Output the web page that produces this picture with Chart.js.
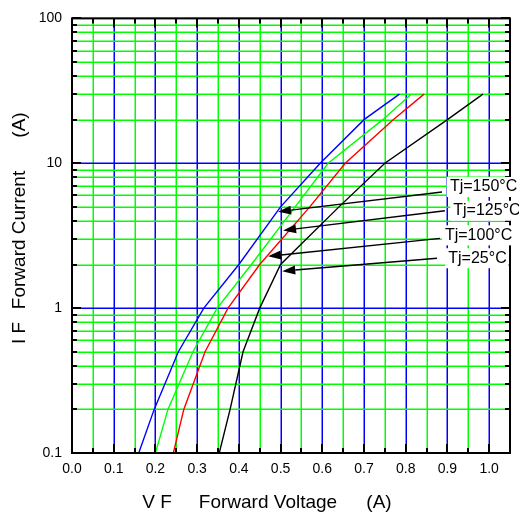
<!DOCTYPE html>
<html>
<head>
<meta charset="utf-8">
<script src="https://cdn.jsdelivr.net/npm/chart.js@4.4.0/dist/chart.umd.min.js"></script>
<style>
  html, body { margin: 0; padding: 0; background: #fff; }
  #wrap { width: 519px; height: 520px; }
</style>
</head>
<body>
<div id="wrap"><canvas id="vfChart" width="519" height="520"></canvas></div>
<script>
// forward current points (A), shared by all curves
var currents = [0.1, 0.2, 0.5, 1, 2, 5, 10, 20, 30];

// forward voltage (V) at each current, per junction temperature
var vf150 = [0.160, 0.197, 0.255, 0.316, 0.400, 0.500, 0.595, 0.700, 0.785];
var vf125 = [0.200, 0.230, 0.290, 0.348, 0.430, 0.535, 0.614, 0.745, 0.813];
var vf100 = [0.243, 0.268, 0.319, 0.374, 0.450, 0.570, 0.655, 0.770, 0.844];
var vf25  = [0.353, 0.379, 0.410, 0.450, 0.500, 0.640, 0.750, 0.900, 0.985];

var seriesNames = ['Tj=150°C', 'Tj=125°C', 'Tj=100°C', 'Tj=25°C'];
var seriesColors = ['#0000ff', '#00ff00', '#ff0000', '#000000'];

// y tick labels and log grid
var yLabels = [0.1, 1, 10, 100];
var decades = [0.1, 1, 10];
var mantissas = [1, 2, 3, 4, 5, 6, 7, 8, 9];

// callouts, in data units: label anchor, arrow tail, arrow tip
var calloutText = ['Tj=150°C', 'Tj=125°C', 'Tj=100°C', 'Tj=25°C'];
var labelV = [0.906, 0.914, 0.894, 0.902];
var labelI = [6.86, 4.70, 3.18, 2.21];
var tailV  = [0.887, 0.894, 0.882, 0.875];
var tailI  = [6.34, 4.70, 3.03, 2.21];
var tipV   = [0.494, 0.506, 0.470, 0.504];
var tipI   = [4.63, 3.44, 2.28, 1.80];

function pts(vs) {
    return vs.map(function (v, i) { return { x: v, y: currents[i] }; });
}

var allVf = [vf150, vf125, vf100, vf25];
var datasetArray = allVf.map(function (vs, i) {
    return {
        label: seriesNames[i],
        data: pts(vs),
        borderColor: seriesColors[i],
        borderWidth: 1.4,
        pointRadius: 0,
        tension: 0,
        fill: false
    };
});

function isTenth(v) { return Math.abs(Math.round(v * 100)) % 10 === 0; }
function gridPos(p) { return Math.round(p) + 0.25; }

var FONT = '"Liberation Sans", Arial, sans-serif';

var framePlugin = {
    id: 'frame',
    beforeDatasetsDraw: function (chart) {
        // grid lines: blue on 0.1 V / decades, green elsewhere
        var c = chart.ctx, a = chart.chartArea;
        var xs = chart.scales.x, ys = chart.scales.y;
        c.save();
        c.lineWidth = 1.5;
        xs.ticks.forEach(function (t) {
            var px = gridPos(xs.getPixelForValue(t.value));
            c.strokeStyle = isTenth(t.value) ? '#0000ff' : '#00ff00';
            c.beginPath(); c.moveTo(px, a.top); c.lineTo(px, a.bottom); c.stroke();
        });
        ys.ticks.forEach(function (t) {
            var py = gridPos(ys.getPixelForValue(t.value));
            c.strokeStyle = (t.value === 1 || t.value === 10) ? '#0000ff' : '#00ff00';
            c.beginPath(); c.moveTo(a.left, py); c.lineTo(a.right, py); c.stroke();
        });
        c.restore();
    },
    afterDatasetsDraw: function (chart) {
        var c = chart.ctx, a = chart.chartArea;
        var xs = chart.scales.x, ys = chart.scales.y;
        c.save();
        c.strokeStyle = '#000';
        c.lineWidth = 2;
        c.beginPath();
        xs.ticks.forEach(function (t) {
            var px = Math.round(xs.getPixelForValue(t.value));
            var len = isTenth(t.value) ? 9 : 5;
            c.moveTo(px, a.bottom); c.lineTo(px, a.bottom - len);
            c.moveTo(px, a.top); c.lineTo(px, a.top + len);
        });
        ys.ticks.forEach(function (t) {
            var py = Math.round(ys.getPixelForValue(t.value));
            var len = yLabels.indexOf(t.value) >= 0 ? 9 : 5;
            c.moveTo(a.left, py); c.lineTo(a.left + len, py);
            c.moveTo(a.right, py); c.lineTo(a.right - len, py);
        });
        c.stroke();
        c.strokeRect(a.left, a.top, a.right - a.left, a.bottom - a.top);
        c.restore();
    },
    afterDraw: function (chart) {
        var c = chart.ctx;
        var xs = chart.scales.x, ys = chart.scales.y;
        c.save();
        // callouts
        c.font = '16px ' + FONT;
        c.textBaseline = 'middle';
        c.textAlign = 'left';
        for (var i = 0; i < calloutText.length; i++) {
            var lx = xs.getPixelForValue(labelV[i]), ly = ys.getPixelForValue(labelI[i]);
            var w = c.measureText(calloutText[i]).width;
            c.fillStyle = '#fff';
            c.fillRect(lx - 3, ly - 10, w + 5, 20);
        }
        for (var j = 0; j < calloutText.length; j++) {
            var x0 = xs.getPixelForValue(tailV[j]), y0 = ys.getPixelForValue(tailI[j]);
            var x1 = xs.getPixelForValue(tipV[j]), y1 = ys.getPixelForValue(tipI[j]);
            var ang = Math.atan2(y1 - y0, x1 - x0);
            var hl = 13, hw = 4.5;
            var bx = x1 - hl * Math.cos(ang), by = y1 - hl * Math.sin(ang);
            c.strokeStyle = '#000';
            c.lineWidth = 1.4;
            c.beginPath();
            c.moveTo(x0, y0); c.lineTo(bx, by);
            c.stroke();
            c.fillStyle = '#000';
            c.beginPath();
            c.moveTo(x1, y1);
            c.lineTo(bx + hw * Math.sin(ang), by - hw * Math.cos(ang));
            c.lineTo(bx - hw * Math.sin(ang), by + hw * Math.cos(ang));
            c.closePath();
            c.fill();
            c.fillText(calloutText[j], xs.getPixelForValue(labelV[j]), ys.getPixelForValue(labelI[j]));
        }
        // axis titles
        c.font = '19px ' + FONT;
        c.textAlign = 'center';
        c.fillStyle = '#000';
        c.fillText('V F', 157, 503);
        c.fillText('Forward Voltage', 268, 503);
        c.fillText('(A)', 379, 503);
        c.translate(20, 0);
        c.rotate(-Math.PI / 2);
        c.fillText('I F', -333, 0);
        c.fillText('Forward Current', -240, 0);
        c.fillText('(A)', -125, 0);
        c.restore();
    }
};

var ctx = document.getElementById('vfChart').getContext('2d');
var chart = new Chart(ctx, {
    type: 'line',
    data: { datasets: datasetArray },
    plugins: [framePlugin],
    options: {
        responsive: false,
        animation: false,
        layout: { padding: { left: 0, top: 14, right: 9, bottom: 0 } },
        plugins: { legend: { display: false }, tooltip: { enabled: false } },
        scales: {
            x: {
                type: 'linear',
                min: 0,
                max: 1.05,
                afterFit: function (s) { s.height = 67; },
                border: { display: false },
                grid: { display: false, drawTicks: false },
                ticks: {
                    stepSize: 0.05,
                    autoSkip: false,
                    maxRotation: 0,
                    padding: 8,
                    color: '#000',
                    font: { family: FONT, size: 14 },
                    callback: function (v) { return isTenth(v) && v < 1.04 ? v.toFixed(1) : ''; }
                }
            },
            y: {
                type: 'logarithmic',
                min: 0.1,
                max: 100,
                afterFit: function (s) { s.width = 72; },
                afterBuildTicks: function (s) {
                    var t = [];
                    decades.forEach(function (d) {
                        mantissas.forEach(function (m) { t.push({ value: Number((m * d).toPrecision(3)) }); });
                    });
                    t.push({ value: 100 });
                    s.ticks = t;
                },
                border: { display: false },
                grid: { display: false, drawTicks: false },
                ticks: {
                    autoSkip: false,
                    padding: 10,
                    color: '#000',
                    font: { family: FONT, size: 14 },
                    callback: function (v) { return yLabels.indexOf(v) >= 0 ? String(v) : ''; }
                }
            }
        }
    }
});
</script>
</body>
</html>
